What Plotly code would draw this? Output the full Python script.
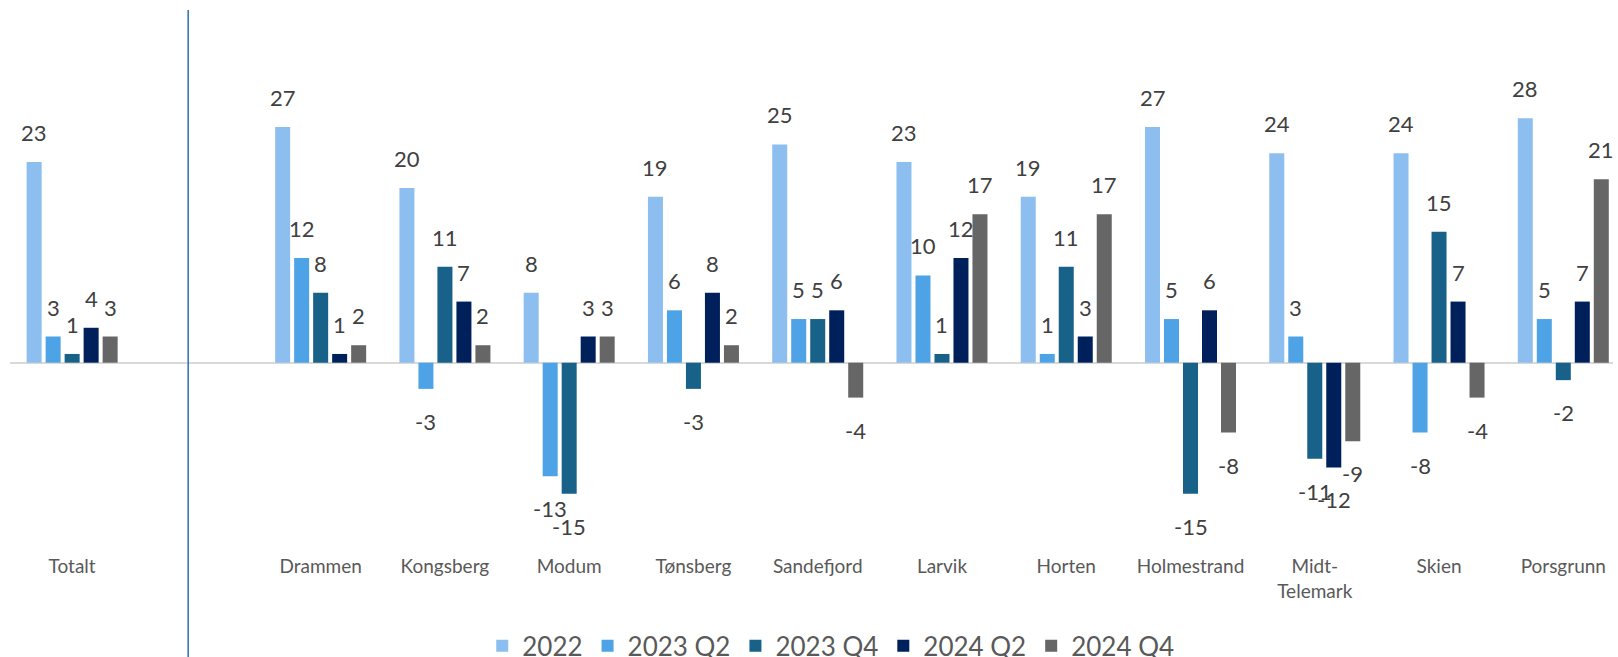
import plotly.graph_objects as go

categories = ["Totalt", " ", "Drammen", "Kongsberg", "Modum", "Tønsberg", "Sandefjord",
              "Larvik", "Horten", "Holmestrand", "Midt-<br>Telemark", "Skien", "Porsgrunn"]

v_2022 = [23, None, 27, 20, 8, 19, 25, 23, 19, 27, 24, 24, 28]
v_2023_q2 = [3, None, 12, -3, -13, 6, 5, 10, 1, 5, 3, -8, 5]
v_2023_q4 = [1, None, 8, 11, -15, -3, 5, 1, 11, -15, -11, 15, -2]
v_2024_q2 = [4, None, 1, 7, 3, 8, 6, 12, 3, 6, -12, 7, 7]
v_2024_q4 = [3, None, 2, 2, 3, 2, -4, 17, 17, -8, -9, -4, 21]

series = [
    ("2022", v_2022, "#8cbff0"),
    ("2023 Q2", v_2023_q2, "#4ea3e6"),
    ("2023 Q4", v_2023_q4, "#18628a"),
    ("2024 Q2", v_2024_q2, "#00205c"),
    ("2024 Q4", v_2024_q4, "#666666"),
]

FONT = "Lato, 'Open Sans', sans-serif"
SLOT = 19  # px per bar slot inside a group

fig = go.Figure()
annotations = []
for i, (name, vals, color) in enumerate(series):
    fig.add_trace(go.Bar(
        x=categories, y=vals, name=name,
        marker=dict(color=color, line=dict(width=0)),
    ))
    # value labels, placed like Excel (a bit away from the bar end)
    for cat, v in zip(categories, vals):
        if v is None:
            continue
        annotations.append(dict(
            x=cat, y=v, xref="x", yref="y", text=str(v), showarrow=False,
            xshift=(i - 2) * SLOT,
            yanchor="bottom" if v >= 0 else "top",
            yshift=14 if v >= 0 else -17,
            font=dict(size=22, color="#404040", family=FONT),
        ))

# separator between total and municipalities
fig.add_shape(type="line", xref="x", yref="paper",
              x0=0.934, x1=0.934, y0=-0.3, y1=1.0,
              line=dict(color="#2e6db4", width=1.5))

fig.update_layout(
    width=1618, height=657,
    barmode="group", bargap=0.2355, bargroupgap=0.21,
    plot_bgcolor="white", paper_bgcolor="white",
    font=dict(family=FONT, color="#595959"),
    margin=dict(l=10, r=5, t=10, b=104),
    annotations=annotations,
    showlegend=True,
    legend=dict(orientation="h", x=0.512, xanchor="center",
                yref="container", y=0.017, yanchor="middle",
                font=dict(size=26, color="#595959")),
)
fig.update_xaxes(
    range=[-0.5, 12.4], showgrid=False, showline=False, ticks="",
    tickfont=dict(size=19, color="#595959"), zeroline=False,
)
fig.update_yaxes(
    range=[-21.8, 40.4], showgrid=False, showticklabels=False, showline=False,
    zeroline=True, zerolinecolor="#d9d9d9", zerolinewidth=2,
)

fig.write_html("out.html", config={"displayModeBar": False},
               post_script="document.body.style.margin='0';")
